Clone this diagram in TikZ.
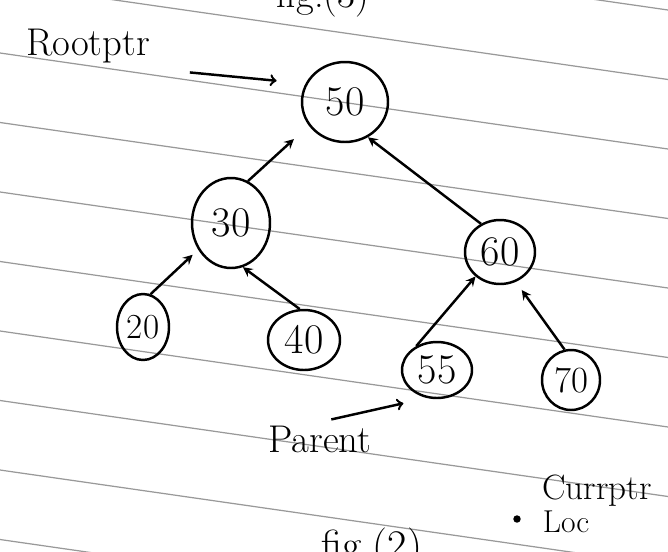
\documentclass[tikz,border=0pt]{standalone}
\usetikzlibrary{arrows}
\usetikzlibrary{shapes.geometric}

\begin{document}
\begin{tikzpicture}[x=0.02cm,y=-0.02cm,
  treenode/.style={draw,ellipse,line width=1.4pt,inner sep=0pt,font=\fontsize{24}{28}\selectfont},
  hand/.style={font=\fontsize{22}{26}\selectfont},
  ruling/.style={gray!80,line width=0.7pt},
  parentlink/.style={line width=1.4pt,-stealth},
  ptrarrow/.style={line width=1.4pt,->}]
\useasboundingbox (0,0) rectangle (668,551);
\fill[white] (0,0) rectangle (668,551);
\clip (0,0) rectangle (668,551);

% ruled paper
\foreach \k in {-2,...,7}
  \draw[ruling] (0,{53+69.5*\k}) -- (668,{149+69.5*\k});

\node[hand,anchor=base east] (figthree) at (375,8) {fig.(3)};

\node[treenode,minimum width=1.72cm,minimum height=1.6cm] (n50) at (345,102) {50};
\node[treenode,minimum width=1.56cm,minimum height=1.8cm] (n30) at (231,223) {30};
\node[treenode,minimum width=1.4cm,minimum height=1.28cm] (n60) at (500,252) {60};
\node[treenode,minimum width=1.04cm,minimum height=1.32cm,font=\fontsize{20}{24}\selectfont] (n20) at (143,327) {20};
\node[treenode,minimum width=1.44cm,minimum height=1.2cm] (n40) at (304,340) {40};
\node[treenode,minimum width=1.4cm,minimum height=1.12cm] (n55) at (437,370) {55};
\node[treenode,minimum width=1.16cm,minimum height=1.2cm,font=\fontsize{21}{24}\selectfont] (n70) at (571,380) {70};

\draw[parentlink,shorten >=0.4cm] (n30.68) -- (n50.213);
\draw[parentlink] (n60.124) -- (n50.-57);
\draw[parentlink,shorten >=0.15cm] (n20.77) -- (n30.219);
\draw[parentlink] (n40.98) -- (n30.-75);
\draw[parentlink] (n55.131) -- (n60.-135);
\draw[parentlink,shorten >=0.2cm] (n70.102) -- (n60.-62);

\node[hand] (rootlabel) at (88,46) {Rootptr};
\draw[ptrarrow,shorten <=0.68cm,shorten >=0.58cm] (rootlabel.south east) -- (n50.155);

\node[hand] (parentlabel) at (320,439) {Parent};
\draw[ptrarrow,shorten >=0.48cm] (parentlabel.60) -- (n55.250);

\node[font=\fontsize{20}{24}\selectfont,inner sep=0.5pt] (currlabel) at (597,491) {Currptr};
\node[circle,fill,inner sep=1.5pt] (locdot) at (517,519) {};
\node[font=\fontsize{18}{22}\selectfont,inner sep=0.5pt] (loclabel) at (566,522) {Loc};

\node[hand,anchor=north,font=\fontsize{24}{28}\selectfont] (figtwo) at (372,522) {fig.(2)};
\end{tikzpicture}
\end{document}
